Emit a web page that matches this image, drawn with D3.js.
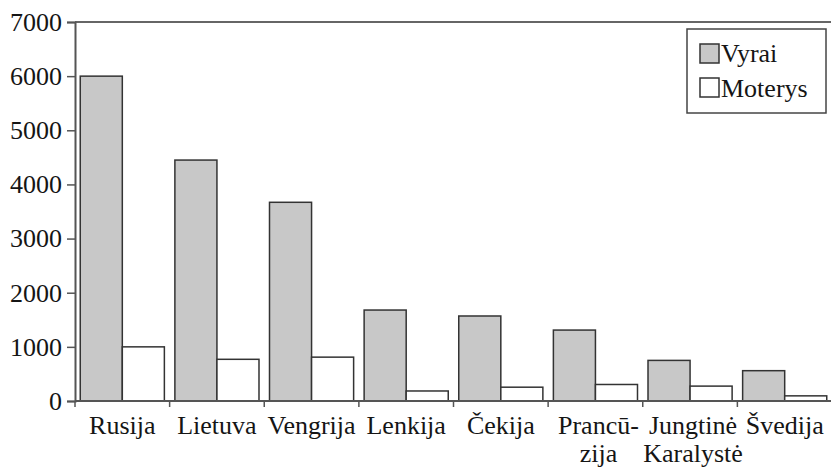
<!DOCTYPE html>
<html><head><meta charset="utf-8">
<script src="https://cdn.jsdelivr.net/npm/d3@7"></script>
<style>body{margin:0;background:#fff}svg{display:block}</style>
</head><body>
<script>
const categories = [["Rusija"],["Lietuva"],["Vengrija"],["Lenkija"],["Čekija"],["Prancū-","zija"],["Jungtinė","Karalystė"],["Švedija"]];
const seriesNames = ["Vyrai","Moterys"];
const vyrai = [6000,4450,3670,1680,1570,1310,750,560];
const moterys = [1000,770,810,185,255,305,275,95];
const yTicks = [0,1000,2000,3000,4000,5000,6000,7000];
const colors = ["#c8c8c8","#ffffff"];

const FONT = "'Liberation Serif', 'Times New Roman', Times, serif";
const TXT = "#151515";
const W=831,H=468, L=75, R=832, T=22, B=401;
const svg=d3.select("body").append("svg").attr("width",W).attr("height",H).style("font-family",FONT);
const x=d3.scaleBand().domain(d3.range(categories.length)).range([L,R]).paddingInner(0).paddingOuter(0);
const x1=d3.scaleBand().domain([0,1]).range([0,x.bandwidth()]).paddingOuter(0.125).paddingInner(0);
const y=d3.scaleLinear().domain([0,7000]).range([B,T]);

svg.append("line").attr("x1",L).attr("x2",W).attr("y1",T).attr("y2",T).attr("stroke","#666").attr("stroke-width",2);

const data=[vyrai,moterys];
const g=svg.append("g");
categories.forEach((c,i)=>{
  data.forEach((s,k)=>{
    g.append("rect").attr("x",x(i)+x1(k)).attr("y",y(s[i])).attr("width",x1.bandwidth()).attr("height",B-y(s[i]))
     .attr("fill",colors[k]).attr("stroke","#333").attr("stroke-width",1.5);
  });
});

const ya=svg.append("g").attr("transform",`translate(${L},0)`).call(d3.axisLeft(y).tickValues(yTicks).tickSize(8).tickPadding(5).tickFormat(d3.format("d")));
ya.attr("font-family",null).attr("font-size",null);
ya.select(".domain").attr("stroke","#555").attr("stroke-width",2);
ya.selectAll(".tick line").attr("stroke","#555").attr("stroke-width",1.5);
ya.selectAll("text").attr("font-size",26).attr("fill",TXT).style("font-family",FONT);

const xa=svg.append("g").attr("transform",`translate(0,${B})`);
xa.append("line").attr("x1",L).attr("x2",R).attr("stroke","#555").attr("stroke-width",2);
d3.range(categories.length).forEach(i=>{
  xa.append("line").attr("x1",x(i)).attr("x2",x(i)).attr("y1",0).attr("y2",6).attr("stroke","#555").attr("stroke-width",1.5);
});
categories.forEach((c,i)=>{
  const cx=x(i)+x.bandwidth()/2;
  c.forEach((line,j)=>{
    xa.append("text").attr("x",cx + (c.length>1?3:0)).attr("y",33+j*28).attr("text-anchor","middle")
      .attr("font-size",26).attr("fill",TXT).style("font-family",FONT).text(line);
  });
});

const lg=svg.append("g");
lg.append("rect").attr("x",687).attr("y",29).attr("width",139).attr("height",84).attr("fill","#fff").attr("stroke","#444").attr("stroke-width",1.5);
seriesNames.forEach((n,k)=>{
  lg.append("rect").attr("x",700).attr("y",44+k*34).attr("width",19).attr("height",19).attr("fill",colors[k]).attr("stroke","#333").attr("stroke-width",1.5);
  lg.append("text").attr("x",721).attr("y",62+k*35).attr("font-size",26).attr("fill",TXT).style("font-family",FONT).text(n);
});
</script>
</body></html>
